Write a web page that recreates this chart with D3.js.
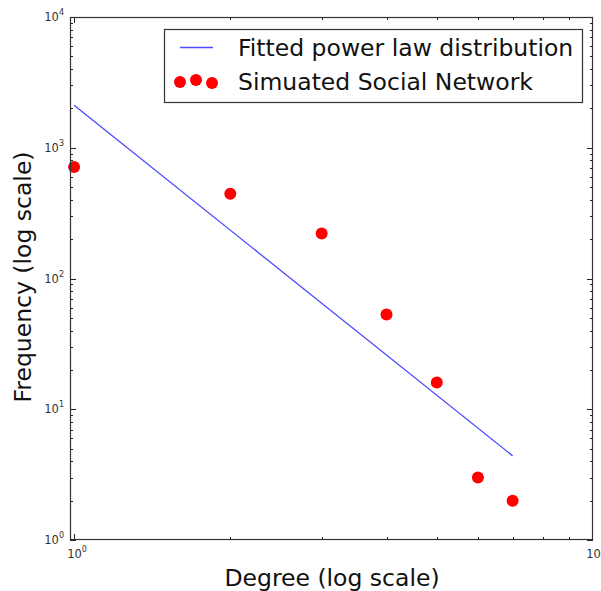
<!DOCTYPE html>
<html>
<head>
<meta charset="utf-8">
<script src="https://cdn.jsdelivr.net/npm/d3@7"></script>
<style>
  body { margin: 0; background: #fff; }
  text { font-family: "DejaVu Sans", sans-serif; }
</style>
</head>
<body>
<div id="chart"></div>
<script>
// observed degree distribution
const degrees = [1, 2, 3, 4, 5, 6, 7];
const frequencies = [712, 445, 221, 53, 16, 3, 2];

// fitted power law (straight line on log-log)
const fitDegrees = [1, 7];
const fitValues = [2110, 4.4];

const xTickValues = [1, 10];
const yTickValues = [1, 10, 100, 1000, 10000];

const width = 601;
const height = 591;
const margin = {top: 17, right: 8, bottom: 51, left: 70};

const svg = d3.select('#chart').append('svg')
  .attr('width', width)
  .attr('height', height);

const x = d3.scaleLog()
  .domain([0.982, 10])
  .range([margin.left, width - margin.right]);

const y = d3.scaleLog()
  .domain([1, 10000])
  .range([height - margin.bottom, margin.top]);

const x0 = margin.left, x1 = width - margin.right;
const y0 = height - margin.bottom, y1 = margin.top;

// minor ticks 2..9 per decade
function minors (lo, hi) {
  var out = [];
  for (var d = lo; d < hi; d *= 10) {
    for (var m = 2; m < 10; m++) out.push(d * m);
  }
  return out;
}
const xMinor = minors(1, 10);
const yMinor = minors(1, 10000);

const ticks = svg.append('g').attr('stroke', '#222').attr('stroke-width', 1);

// x ticks, bottom and top, pointing inwards
xTickValues.concat(xMinor).forEach(v => {
  var len = xTickValues.indexOf(v) >= 0 ? 6 : 3;
  var px = Math.round(x(v)) + 0.5;
  if (px > x1) return;
  ticks.append('line').attr('x1', px).attr('x2', px).attr('y1', y0).attr('y2', y0 - len);
  ticks.append('line').attr('x1', px).attr('x2', px).attr('y1', y1).attr('y2', y1 + len);
});

yTickValues.concat(yMinor).forEach(v => {
  var len = yTickValues.indexOf(v) >= 0 ? 6 : 3;
  var py = Math.round(y(v)) + 0.5;
  ticks.append('line').attr('x1', x0).attr('x2', x0 + len).attr('y1', py).attr('y2', py);
  ticks.append('line').attr('x1', x1).attr('x2', x1 - len).attr('y1', py).attr('y2', py);
});

// tick labels 10^n
function powerLabel (sel, v) {
  var e = Math.round(Math.log10(v));
  sel.append('tspan').text('10');
  sel.append('tspan').attr('dy', -6).attr('font-size', 8).text(e);
}

yTickValues.forEach(v => {
  var t = svg.append('text')
    .attr('x', x0 - 6)
    .attr('y', y(v) + 4)
    .attr('text-anchor', 'end')
    .attr('font-size', 11.5)
    .attr('fill', '#333');
  powerLabel(t, v);
});

xTickValues.forEach(v => {
  var t = svg.append('text')
    .attr('x', x(v) + 3)
    .attr('y', y0 + 18)
    .attr('text-anchor', 'middle')
    .attr('font-size', 11.5)
    .attr('fill', '#333');
  powerLabel(t, v);
});

// fitted line
const line = d3.line()
  .x((d, i) => x(fitDegrees[i]))
  .y(d => y(d));

svg.append('path')
  .datum(fitValues)
  .attr('d', line)
  .attr('fill', 'none')
  .attr('stroke', '#4a4aff')
  .attr('stroke-width', 1.3);

// observed points
svg.append('g')
  .selectAll('circle')
  .data(degrees)
  .enter().append('circle')
    .attr('cx', d => x(d))
    .attr('cy', (d, i) => y(frequencies[i]))
    .attr('r', 6)
    .attr('fill', '#ff0000');

// frame
svg.append('rect')
  .attr('x', x0 + 0.5)
  .attr('y', y1 + 0.5)
  .attr('width', x1 - x0 - 1)
  .attr('height', y0 - y1 - 1)
  .attr('fill', 'none')
  .attr('stroke', '#333')
  .attr('stroke-width', 1.2);

// legend
const legend = svg.append('g');
legend.append('rect')
  .attr('x', 164.5).attr('y', 29.5)
  .attr('width', 418).attr('height', 73)
  .attr('fill', '#fff')
  .attr('stroke', '#333')
  .attr('stroke-width', 1.2);

legend.append('line')
  .attr('x1', 180).attr('x2', 213)
  .attr('y1', 47.5).attr('y2', 47.5)
  .attr('stroke', '#4a4aff')
  .attr('stroke-width', 1.3);

[[180, 82], [196, 80], [212, 83]].forEach(p => {
  legend.append('circle')
    .attr('cx', p[0]).attr('cy', p[1])
    .attr('r', 6)
    .attr('fill', '#ff0000');
});

legend.append('text')
  .attr('x', 238).attr('y', 56)
  .attr('font-size', 23.5)
  .attr('fill', '#111')
  .text('Fitted power law distribution');

legend.append('text')
  .attr('x', 238).attr('y', 90)
  .attr('font-size', 23.5)
  .attr('fill', '#111')
  .text('Simuated Social Network');

// axis titles
svg.append('text')
  .attr('x', 332)
  .attr('y', 586)
  .attr('text-anchor', 'middle')
  .attr('font-size', 23.5)
  .attr('fill', '#111')
  .text('Degree (log scale)');

svg.append('text')
  .attr('transform', 'translate(31,277) rotate(-90)')
  .attr('text-anchor', 'middle')
  .attr('font-size', 23.5)
  .attr('fill', '#111')
  .text('Frequency (log scale)');
</script>
</body>
</html>
